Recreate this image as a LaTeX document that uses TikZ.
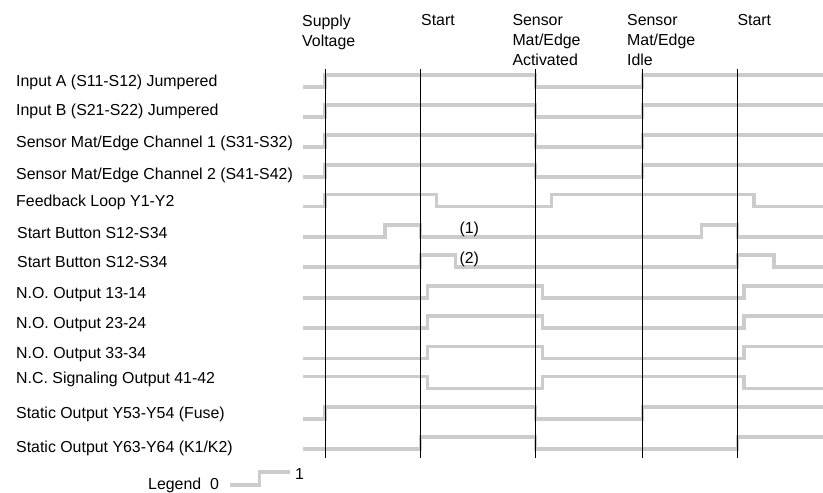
\documentclass[tikz,border=0pt]{standalone}
\usepackage{fontspec}
\setmainfont{Liberation Sans}

\begin{document}
\begin{tikzpicture}[x=1pt, y=-1pt,
		wave/.style={draw=black!20, line width=3.2pt},
		event/.style={draw=black, line width=1pt},
		lbl/.style={anchor=base west, inner sep=0pt, font=\fontsize{15.9}{20}\selectfont},
		hdr/.style={anchor=north west, align=left, inner sep=0pt, font=\fontsize{15.9}{20}\selectfont}]
		\useasboundingbox (0, 0) rectangle (823, 493);
		
		% column headings
		\node[hdr] (supply) at (302, 14.3) {Supply\\Voltage};
		\node[hdr] (start) at (421, 14.3) {Start};
		\node[hdr] (activated) at (512.3, 14.3) {Sensor\\Mat/Edge\\Activated};
		\node[hdr] (idle) at (627, 14.3) {Sensor\\Mat/Edge\\Idle};
		\node[hdr] (restart) at (737.3, 14.3) {Start};
		
		% signal names
		\node[lbl] (inA) at (16, 86.5) {Input A (S11-S12) Jumpered};
		\node[lbl] (inB) at (16, 115.5) {Input B (S21-S22) Jumpered};
		\node[lbl] (chA) at (16, 147.5) {Sensor Mat/Edge Channel 1 (S31-S32)};
		\node[lbl] (chB) at (16, 179.5) {Sensor Mat/Edge Channel 2 (S41-S42)};
		\node[lbl] (loop) at (16, 206.5) {Feedback Loop Y1-Y2};
		\node[lbl] (btnA) at (17, 238.5) {Start Button S12-S34};
		\node[lbl] (btnB) at (17, 267.5) {Start Button S12-S34};
		\node[lbl] (no1) at (16, 298.5) {N.O. Output 13-14};
		\node[lbl] (no2) at (16, 328.5) {N.O. Output 23-24};
		\node[lbl] (no3) at (16, 358.5) {N.O. Output 33-34};
		\node[lbl] (nc) at (16, 383.5) {N.C. Signaling Output 41-42};
		\node[lbl] (fuse) at (16, 418.5) {Static Output Y53-Y54 (Fuse)};
		\node[lbl] (relay) at (16, 452.5) {Static Output Y63-Y64 (K1/K2)};
		
		% inputs, sensor channels and Y53-Y54 follow the same pattern
		\foreach \h in {75, 105, 135, 165, 407} {
			\draw[wave] (303, \h+12) -| (325, \h) -| (535.3, \h+12) -| (642.3, \h) -- (823, \h);
		}
		
		% feedback loop
		\draw[wave] (303, 206.5) -| (325, 194.5) -| (436.7, 206.5) -| (551.7, 194.5) -| (754, 206.5) -- (823, 206.5);
		
		% start button, two ways
		\draw[wave] (303, 237) -| (385, 225) -| (420.7, 237) -| (701.7, 225) -| (737.7, 237) -- (823, 237);
		\draw[wave] (303, 267) -| (420.7, 255) -| (455.7, 267) -| (737.7, 255) -| (774, 267) -- (823, 267);
		\node[lbl, anchor=center] (noteA) at (469.3, 229.3) {(1)};
		\node[lbl, anchor=center] (noteB) at (469.3, 259) {(2)};
		
		% N.O. outputs
		\foreach \h in {286, 316, 346.5} {
			\draw[wave] (303, \h+12) -| (427.3, \h) -| (542.7, \h+12) -| (744, \h) -- (823, \h);
		}
		
		% N.C. output
		\draw[wave] (303, 376.5) -| (427.3, 388.5) -| (542.7, 376.5) -| (744, 388.5) -- (823, 388.5);
		
		% Y63-Y64
		\draw[wave] (303, 449) -| (420.7, 437) -| (535.3, 449) -| (737.7, 437) -- (823, 437);
		
		% event markers
		\foreach \x in {325, 420.7, 535.3, 642.3, 737.7} {
			\draw[event] (\x, 68.5) -- (\x, 458);
		}
		
		% legend
		\node[lbl] (legend) at (148, 489.5) {Legend\hspace{9pt}0};
		\draw[wave] (230, 485) -| (259.3, 472) -- (290, 472);
		\node[lbl] (one) at (295, 479.3) {1};
	\end{tikzpicture}
\end{document}
